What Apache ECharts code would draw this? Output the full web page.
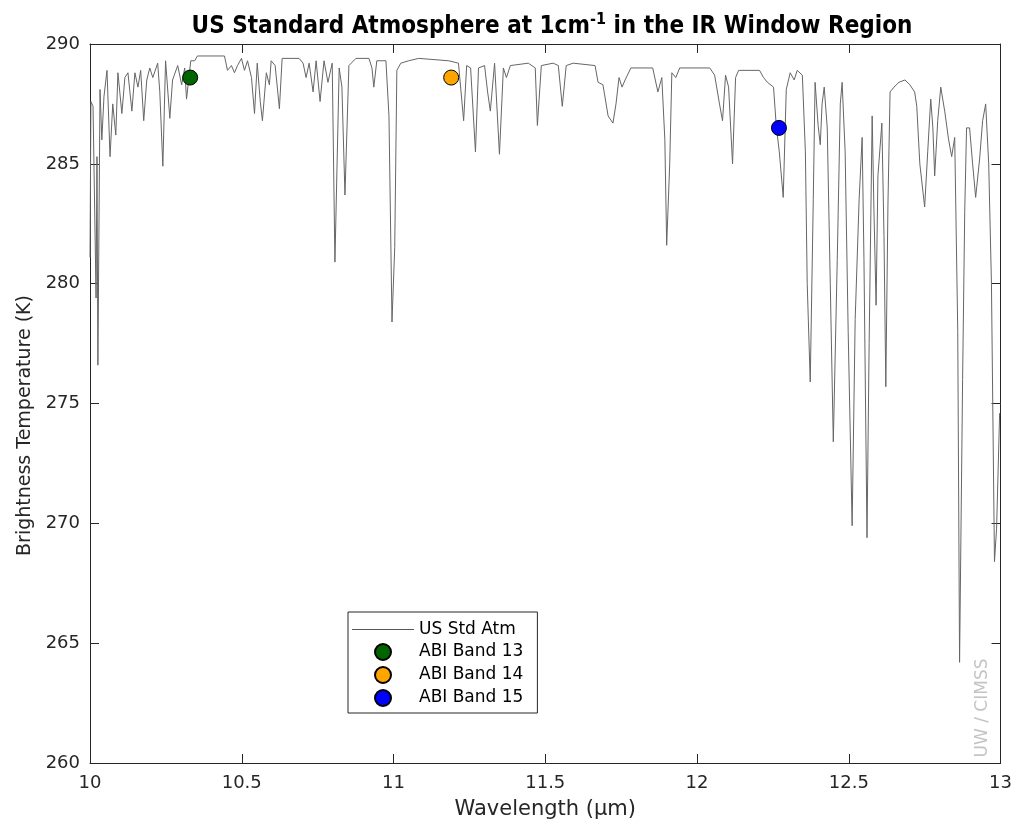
<!DOCTYPE html>
<html>
<head>
<meta charset="utf-8">
<script src="https://cdn.jsdelivr.net/npm/echarts@6/dist/echarts.min.js"></script>
<style>
html,body{margin:0;padding:0;background:#fff;overflow:hidden;width:1015px;height:825px;}
#c{width:1015px;height:825px;display:block;}
</style>
</head>
<body>
<div id="c"></div>
<script>
// Wavelength (um) of spectrum points
var wavelengths = [
10.000,10.003,10.010,10.020,10.023,10.026,10.033,10.039,10.046,10.056,10.066,10.075,10.085,10.092,10.105,10.115,10.125,10.138,10.148,10.158,
10.167,10.177,10.187,10.197,10.207,10.223,10.230,10.240,10.249,10.263,10.272,10.289,10.302,10.312,10.318,10.332,10.345,10.354,10.443,10.453,
10.466,10.476,10.486,10.499,10.509,10.519,10.532,10.542,10.551,10.561,10.568,10.581,10.591,10.597,10.610,10.624,10.633,10.689,10.702,10.712,
10.722,10.735,10.745,10.758,10.771,10.784,10.798,10.807,10.821,10.830,10.840,10.853,10.876,10.919,10.929,10.935,10.945,10.975,10.985,10.995,
11.004,11.011,11.024,11.050,11.083,11.182,11.214,11.231,11.241,11.254,11.270,11.280,11.300,11.310,11.319,11.333,11.349,11.362,11.372,11.385,
11.444,11.467,11.474,11.487,11.526,11.543,11.556,11.569,11.592,11.664,11.674,11.690,11.707,11.723,11.733,11.743,11.753,11.763,11.782,11.854,
11.871,11.884,11.894,11.900,11.910,11.917,11.930,11.943,12.042,12.058,12.074,12.084,12.094,12.104,12.117,12.127,12.137,12.206,12.219,12.232,
12.252,12.261,12.271,12.284,12.294,12.307,12.320,12.330,12.347,12.357,12.363,12.373,12.383,12.389,12.399,12.406,12.412,12.419,12.429,12.439,
12.449,12.462,12.472,12.478,12.488,12.498,12.511,12.521,12.534,12.544,12.550,12.560,12.567,12.577,12.583,12.590,12.596,12.609,12.616,12.622,
12.629,12.636,12.649,12.665,12.685,12.701,12.717,12.724,12.734,12.750,12.760,12.770,12.777,12.783,12.793,12.803,12.816,12.829,12.839,12.849,
12.859,12.865,12.875,12.882,12.888,12.898,12.908,12.918,12.931,12.941,12.951,12.961,12.970,12.980,12.987,12.997
];
// Brightness temperature (K)
var temperatures = [
281.1,287.6,287.4,279.4,285.3,276.6,288.1,286.0,287.8,288.9,285.3,287.5,286.2,288.8,287.1,288.6,288.8,287.2,288.8,288.2,
288.9,286.8,288.5,289.0,288.6,289.2,288.0,284.9,289.3,286.9,288.5,289.1,288.3,289.0,287.7,289.3,289.3,289.5,289.5,288.9,
289.1,288.8,289.1,289.4,288.9,289.3,288.6,287.1,289.2,287.6,286.8,288.8,288.3,289.3,289.1,287.3,289.4,289.4,289.2,288.6,
289.2,288.0,289.3,287.6,289.3,288.4,289.2,280.9,289.0,288.2,283.7,289.1,289.4,289.4,289.0,288.2,289.3,289.3,287.0,278.4,
281.5,288.9,289.2,289.3,289.4,289.3,289.2,286.8,289.1,289.0,285.5,289.0,289.1,288.0,287.2,289.2,285.4,289.0,288.6,289.1,
289.2,289.0,286.6,289.1,289.2,289.1,287.4,289.1,289.2,289.1,288.4,288.3,287.0,286.7,287.5,288.6,288.2,288.5,289.0,289.0,
288.0,288.6,286.0,281.6,285.0,288.8,288.6,289.0,289.0,288.7,287.5,286.8,288.7,288.2,285.0,288.6,288.9,288.9,288.6,288.4,
288.2,286.6,285.5,283.6,288.1,288.8,288.5,288.9,288.7,285.5,280.0,275.9,283.5,288.4,286.6,285.8,287.5,288.2,286.5,280.0,
273.4,281.0,287.5,288.4,285.5,278.0,269.9,278.5,283.5,286.1,281.0,269.4,277.5,287.0,283.0,279.1,284.5,286.7,282.0,275.7,
283.3,288.0,288.2,288.4,288.5,288.3,288.0,287.4,285.0,283.2,285.5,287.7,286.5,284.5,286.8,288.2,287.2,286.0,285.3,286.1,
278.0,264.2,276.0,283.0,286.5,286.5,285.0,283.6,285.2,286.8,287.5,285.0,280.0,268.4,269.8,274.6
];
// ABI band points
var bandNames = ['ABI Band 13', 'ABI Band 14', 'ABI Band 15'];
var bandWavelengths = [10.33, 11.19, 12.27];
var bandTemps = [288.6, 288.6, 286.5];
var bandColors = ['#006400', '#ffa500', '#0000ff'];

var lineData = wavelengths.map(function (w, i) { return [w, temperatures[i]]; });
var axisColor = '#262626';
var font = 'DejaVu Sans';

var series = [{
  name: 'US Std Atm',
  type: 'line',
  data: lineData,
  symbol: 'none',
  showSymbol: false,
  lineStyle: { color: '#666666', width: 1 },
  itemStyle: { color: '#666666' },
  z: 2
}];
bandNames.forEach(function (n, i) {
  series.push({
    name: n,
    type: 'scatter',
    data: [[bandWavelengths[i], bandTemps[i]]],
    symbol: 'circle',
    symbolSize: 15,
    itemStyle: { color: bandColors[i], borderColor: '#000', borderWidth: 1, opacity: 1 },
    z: 5
  });
});

var chart = echarts.init(document.getElementById('c'));
chart.setOption({
  animation: false,
  backgroundColor: '#fff',
  title: {
    text: '{a|US Standard Atmosphere at 1cm}{s|-1}{a| in the IR Window Region}',
    left: 547, textAlign: 'center', top: 7,
    textStyle: {
      rich: {
        a: { fontFamily: 'DejaVu Sans Condensed', fontWeight: 'bold', fontSize: 24, color: '#000' },
        s: { fontFamily: 'DejaVu Sans Condensed', fontWeight: 'bold', fontSize: 16, color: '#000', padding: [0, 0, 14, 0] }
      }
    }
  },
  grid: { left: 90, right: 11, top: 44, bottom: 60, containLabel: false },
  legend: {
    left: 348, top: 612, orient: 'vertical',
    padding: [9, 14, 6, 4],
    itemWidth: 62, itemHeight: 16, itemGap: 5,
    borderColor: axisColor, borderWidth: 1, backgroundColor: '#fff',
    textStyle: { fontFamily: font, fontSize: 17, color: '#000' },
    data: [{ name: 'US Std Atm', icon: 'path://M0,0L62,0L62,1.2L0,1.2Z', itemStyle: { color: '#555' } }]
      .concat(bandNames.map(function (n) { return { name: n, icon: 'circle' }; }))
  },
  xAxis: [{
    type: 'value', min: 10, max: 13, interval: 0.5,
    name: 'Wavelength (\u03bcm)', nameLocation: 'middle', nameGap: 36,
    nameTextStyle: { fontFamily: font, fontSize: 21, color: axisColor },
    axisLine: { lineStyle: { color: axisColor, width: 1 } },
    axisTick: { inside: true, length: 9, lineStyle: { color: axisColor } },
    axisLabel: { fontFamily: font, fontSize: 18, color: axisColor, margin: 11 },
    splitLine: { show: false }
  }, {
    type: 'value', min: 10, max: 13, interval: 0.5, position: 'top',
    axisLine: { lineStyle: { color: axisColor, width: 1 } },
    axisTick: { inside: true, length: 9, lineStyle: { color: axisColor } },
    axisLabel: { show: false }, splitLine: { show: false }
  }],
  yAxis: [{
    type: 'value', min: 260, max: 290, interval: 5,
    name: 'Brightness Temperature (K)', nameLocation: 'middle', nameGap: 55,
    nameTextStyle: { fontFamily: font, fontSize: 19, color: axisColor, padding: [0, 44, 0, 0] },
    axisLine: { show: true, lineStyle: { color: axisColor, width: 1 } },
    axisTick: { show: true, inside: true, length: 9, lineStyle: { color: axisColor } },
    axisLabel: { fontFamily: font, fontSize: 18, color: axisColor, margin: 10 },
    splitLine: { show: false }
  }, {
    type: 'value', min: 260, max: 290, interval: 5, position: 'right',
    axisLine: { show: true, lineStyle: { color: axisColor, width: 1 } },
    axisTick: { show: true, inside: true, length: 9, lineStyle: { color: axisColor } },
    axisLabel: { show: false }, splitLine: { show: false }
  }],
  graphic: [{
    type: 'text', x: 983, y: 708, rotation: Math.PI / 2,
    style: { text: 'UW / CIMSS', fontFamily: font, fontSize: 17, fill: '#c4c4c4', textAlign: 'center', textVerticalAlign: 'middle' }
  }],
  series: series
});
</script>
</body>
</html>
